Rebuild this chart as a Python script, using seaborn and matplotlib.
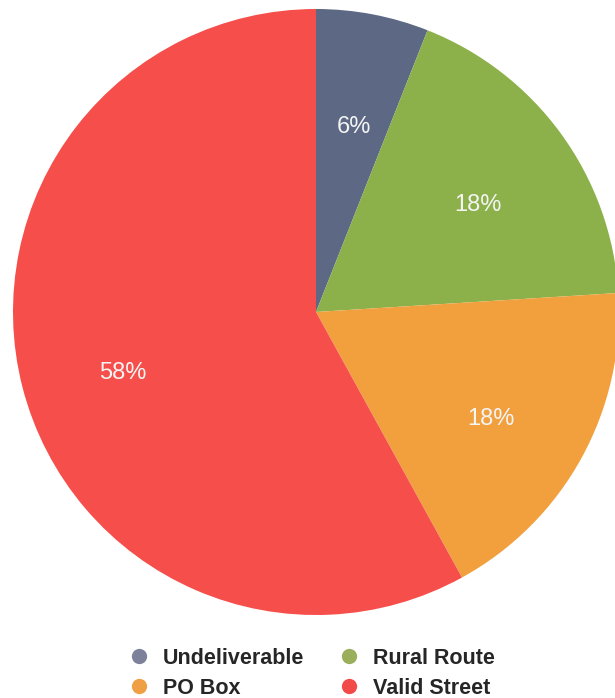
import matplotlib
matplotlib.use("Agg")
import matplotlib.pyplot as plt
from matplotlib.lines import Line2D
import seaborn as sns

categories = ["Undeliverable", "Rural Route", "PO Box", "Valid Street"]
values = [6, 18, 18, 58]
wedge_colors = ["#5d6884", "#8cb04a", "#f2a03e", "#f64e4a"]
legend_colors = ["#7d8199", "#9aae5c", "#f0a044", "#f24a48"]

sns.set_theme(style="white")
plt.rcParams["font.family"] = ["Liberation Sans", "DejaVu Sans"]

fig = plt.figure(figsize=(6.15, 6.98), dpi=100)
ax = fig.add_axes([13 / 615, 83 / 698, 606 / 615, 606 / 698])

wedges, texts, autotexts = ax.pie(
    values,
    colors=wedge_colors,
    startangle=90,
    counterclock=False,
    autopct=lambda p: f"{p:.0f}%",
    pctdistance=0.66,
    radius=1,
    wedgeprops=dict(linewidth=0),
    textprops=dict(color="#f4f4f4", fontsize=17),
)
for t in autotexts:
    t.set_verticalalignment("top")
ax.set_xlim(-1, 1)
ax.set_ylim(-1, 1)
ax.set_aspect("equal")
ax.axis("off")

order = [0, 2, 1, 3]
handles = [
    Line2D([0], [0], marker="o", linestyle="none", markersize=11,
           markerfacecolor=legend_colors[i], markeredgewidth=0)
    for i in order
]
labels = [categories[i] for i in order]
fig.legend(
    handles, labels, ncol=2, loc="center", bbox_to_anchor=(311.5 / 615, 1 - 673.5 / 698),
    frameon=False, prop=dict(weight="bold", size=15.5),
    handlelength=1.0, handletextpad=0.6, columnspacing=1.58, labelspacing=0.42,
    borderpad=0,
)

fig.savefig("out.png", dpi=100)
